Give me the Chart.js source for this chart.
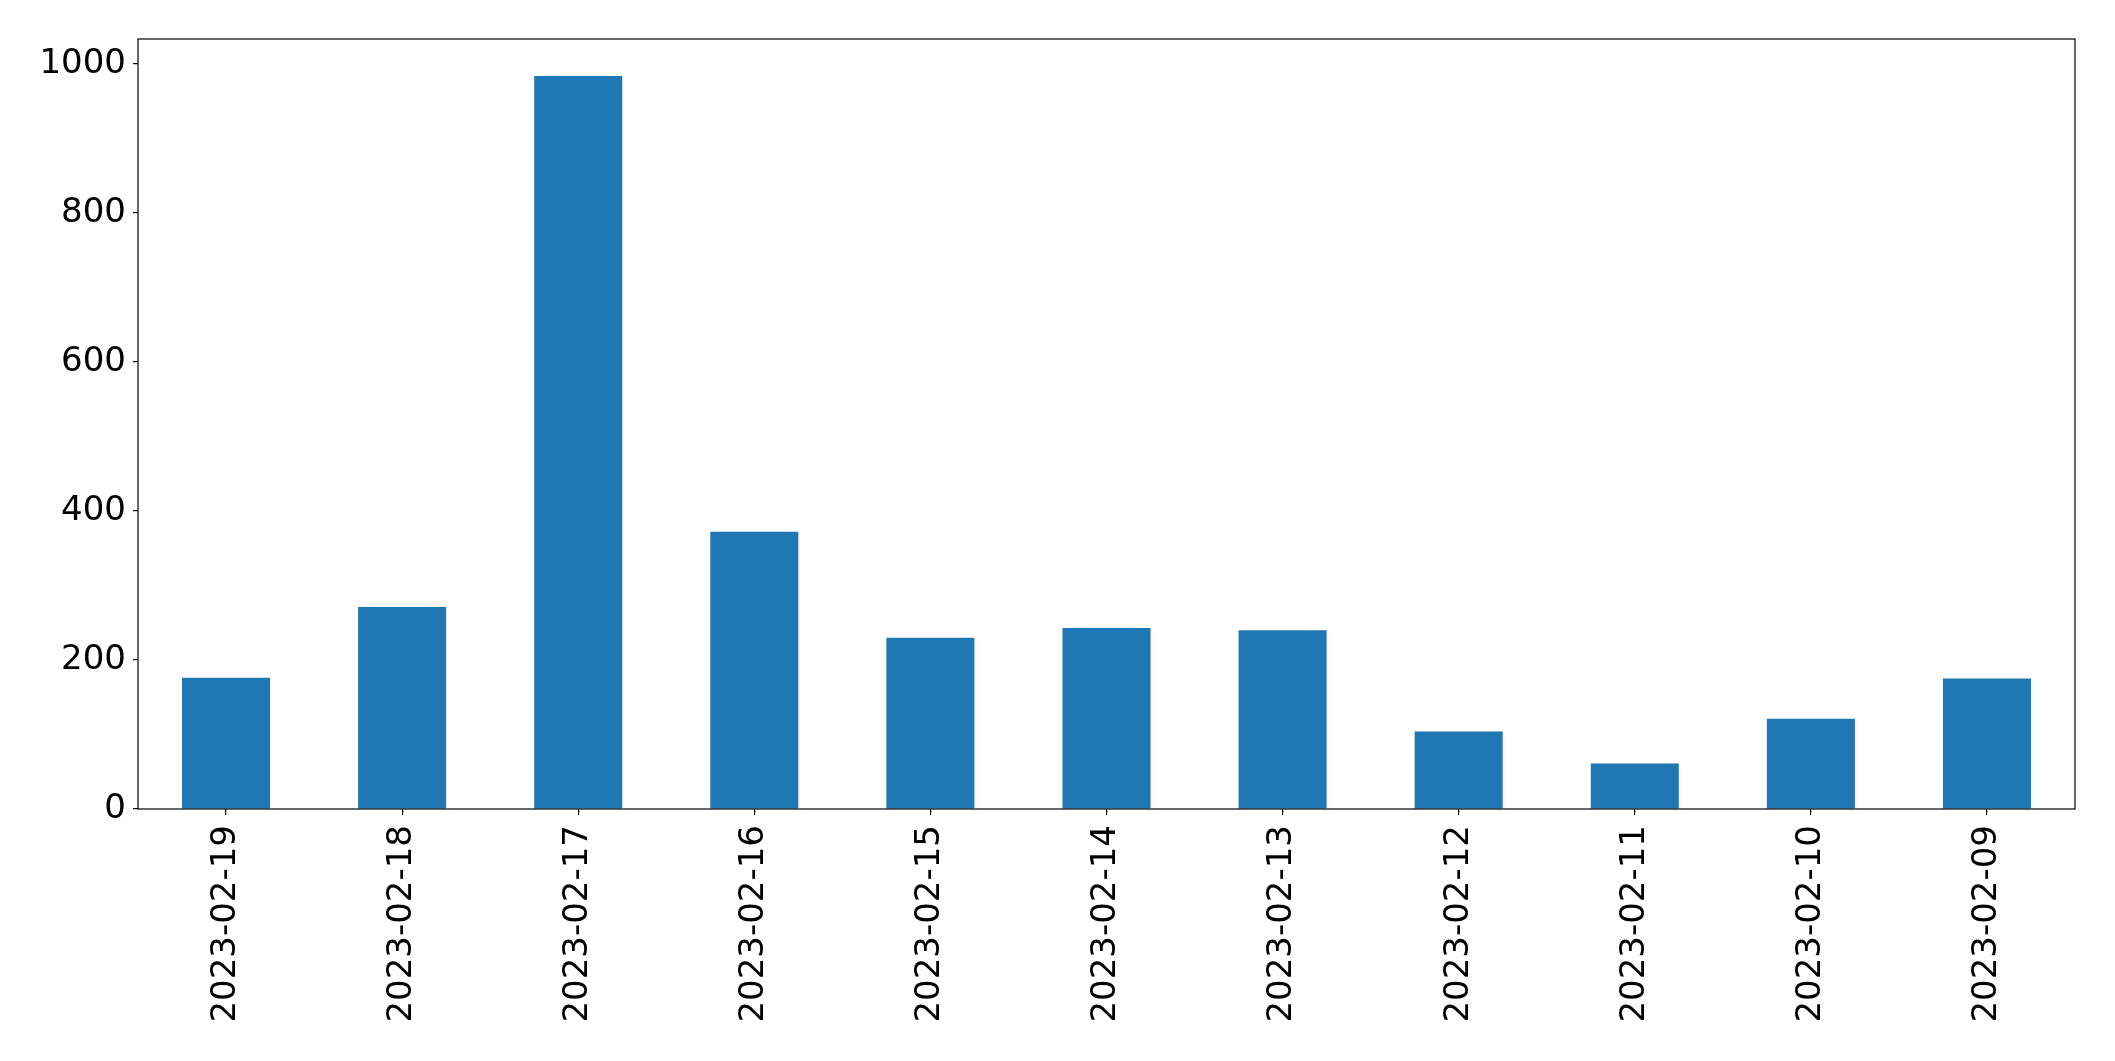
<!DOCTYPE html>
<html>
<head>
<meta charset="utf-8">
<script src="https://cdn.jsdelivr.net/npm/chart.js@4"></script>
<style>
  html, body { margin: 0; padding: 0; background: #fff; }
  #wrap { width: 2115px; height: 1061px; }
</style>
</head>
<body>
<div id="wrap"><canvas id="barChart" width="2115" height="1061"></canvas></div>
<script>
const dates = ["2023-02-19", "2023-02-18", "2023-02-17", "2023-02-16", "2023-02-15", "2023-02-14",
  "2023-02-13", "2023-02-12", "2023-02-11", "2023-02-10", "2023-02-09"];
const counts = [176, 271, 984, 372, 230, 243, 240, 104, 61, 121, 175];
const yTicks = [0, 200, 400, 600, 800, 1000];

// cadre noir autour de la zone du graphique
const frame = {
  id: "frame",
  afterDraw(chart) {
    const a = chart.chartArea;
    const ctx = chart.ctx;
    ctx.save();
    ctx.strokeStyle = "#000";
    ctx.lineWidth = 1.2;
    ctx.strokeRect(a.left, a.top, a.right - a.left, a.bottom - a.top);
    ctx.restore();
  },
};

const ctx = document.getElementById("barChart").getContext("2d");
new Chart(ctx, {
  type: "bar",
  data: {
    labels: dates,
    datasets: [
      {
        data: counts,
        backgroundColor: "#1f77b4",
        categoryPercentage: 1,
        barPercentage: 0.5,
      },
    ],
  },
  options: {
    responsive: false,
    animation: false,
    layout: { padding: { top: 39, right: 40, left: 0, bottom: 0 } },
    plugins: { legend: { display: false }, tooltip: { enabled: false } },
    scales: {
      x: {
        grid: {
          display: true,
          offset: false,
          drawOnChartArea: false,
          tickLength: 6,
          tickColor: "#000",
          lineWidth: 1.2,
        },
        border: { display: false },
        ticks: {
          color: "#000",
          font: { family: "DejaVu Sans", size: 34 },
          minRotation: 90,
          maxRotation: 90,
          padding: 10,
          autoSkip: false,
        },
        afterFit(scale) { scale.height = 252; },
      },
      y: {
        min: 0,
        max: 1033.5,
        afterBuildTicks(scale) { scale.ticks = yTicks.map((v) => ({ value: v })); },
        grid: { display: true, drawOnChartArea: false, tickLength: 5, tickColor: "#000", lineWidth: 1.2 },
        border: { display: false },
        ticks: {
          color: "#000",
          font: { family: "DejaVu Sans", size: 34 },
          padding: 7,
          callback: (v) => String(v),
        },
        afterFit(scale) { scale.width = 138; },
      },
    },
  },
  plugins: [frame],
});
</script>
</body>
</html>
